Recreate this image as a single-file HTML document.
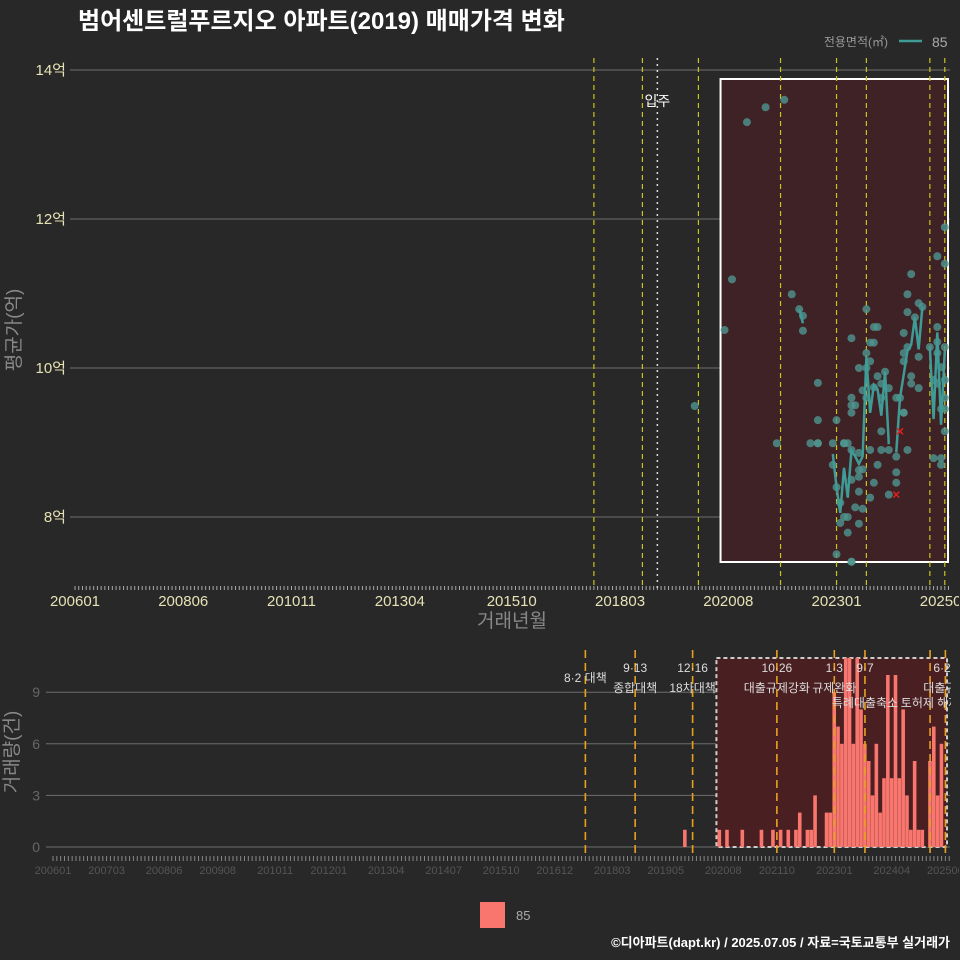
<!DOCTYPE html>
<html><head><meta charset="utf-8">
<style>
body{margin:0;background:#282829;}
svg{display:block;font-family:"Liberation Sans","Noto Sans CJK KR",sans-serif;}
</style></head>
<body>
<svg id="chart" width="960" height="960" viewBox="0 0 960 960" xmlns="http://www.w3.org/2000/svg">
<rect x="0" y="0" width="960" height="960" fill="#282829"/>
<text x="78" y="29" fill="#ffffff" font-size="24" font-weight="bold">범어센트럴푸르지오 아파트(2019) 매매가격 변화</text>
<text x="888" y="46" fill="#999" font-size="12" text-anchor="end">전용면적(㎡)</text>
<line x1="899" y1="41" x2="922" y2="41" stroke="#3f9b96" stroke-width="2.5"/>
<text x="932" y="47" fill="#aaa" font-size="14">85</text>
<g id="topG"></g>
<g id="botG"></g>
<text x="20" y="330" fill="#888" font-size="19" text-anchor="middle" transform="rotate(-90 20 330)">평균가(억)</text>
<text x="512" y="627" fill="#888" font-size="19" text-anchor="middle">거래년월</text>
<text x="18" y="752" fill="#888" font-size="19" text-anchor="middle" transform="rotate(-90 18 752)">거래량(건)</text>
<rect x="480" y="902" width="25" height="26" fill="#f8766d"/>
<text x="516" y="920" fill="#aaa" font-size="13">85</text>
<text x="950" y="947" fill="#fff" font-size="13" font-weight="bold" text-anchor="end">©디아파트(dapt.kr) / 2025.07.05 / 자료=국토교통부 실거래가</text>
</svg>
<script>
const NS="http://www.w3.org/2000/svg";
// ---- data ----
const topTickLabels=["200601","200806","201011","201304","201510","201803","202008","202301","202506"];
const priceTicks=[8,10,12,14];
const eventMonths=["201708","201809","201912","202110","202301","202309","202502","202506"];
const moveInMonth="201901";
const pointMonths=["201911","202007","202009","202101","202106","202111","202201","202203","202204","202204","202208","202208","202208","202206","202208","202109",
"202301","202212","202212","202301","202302","202303","202302","202304","202305","202301","202305",
"202303","202303","202304","202305","202307","202307","202305","202307","202308","202307","202306","202304","202307","202308","202310","202311","202403","202405",
"202312","202310","202401","202403","202405","202408","202405","202401","202305","202305","202305","202306","202308","202309","202311","202401","202401","202403","202405","202406","202407","202407","202409","202411","202409","202312","202402","202307","202309","202310","202309","202305","202311","202312","202310","202311","202309","202407","202407","202408","202407","202408","202408","202409","202410","202411","202412","202411","202502","202504","202504","202505","202506","202504","202505","202506","202503","202505","202505","202504","202504","202506","202506","202506","202503","202506","202506"];
const pointPrices=[9.49,10.51,11.19,13.30,13.50,13.60,10.99,10.79,10.70,10.50,9.80,9.30,8.99,8.99,8.99,8.99,
9.30,8.99,8.70,8.40,8.19,8.00,7.92,7.79,7.40,7.50,7.40,
8.99,8.99,8.99,8.90,8.86,8.63,8.50,8.54,8.64,8.34,8.13,8.00,7.91,8.11,8.26,8.46,8.30,8.46,
8.70,8.90,8.90,8.90,8.81,8.90,8.60,9.15,9.40,9.50,9.60,9.50,9.70,9.60,9.74,9.60,9.79,9.73,9.60,9.60,9.40,9.40,9.79,9.73,9.89,9.89,9.95,10.0,10.0,10.09,10.20,10.40,10.55,10.55,10.34,10.34,10.79,10.09,10.20,10.28,10.47,10.75,10.99,11.26,10.68,10.87,10.82,10.15,10.28,10.35,10.20,10.01,9.84,9.79,9.45,9.45,8.79,8.70,8.79,10.55,11.50,11.40,11.89,10.28,9.84,9.60,9.15];
const crossMonths=["202406","202405"];
const crossPrices=[9.15,8.30];
const botTickLabels=["200601","200703","200806","200908","201011","201201","201304","201407","201510","201612","201803","201905","202008","202110","202301","202404","202506"];
const volTicks=[0,3,6,9];
const barMonths=["201910","202007","202009","202101","202106","202109","202111","202201","202203","202204","202206","202207","202208","202211","202212","202301","202302","202303","202304","202305","202306","202307","202308","202309","202310","202311","202312","202401","202402","202403","202404","202405","202406","202407","202408","202409","202410","202411","202412","202502","202503","202504","202505"];
const barCounts=[1,1,1,1,1,1,1,1,1,2,1,1,3,2,2,9,7,6,11,11,6,11,8,6,5,3,6,2,4,10,4,10,4,8,3,1,5,1,1,5,7,3,6];
const annotMonths=["201708","201809","201912","202110","202301","202309","202502","202506"];
const annotTop=["8·2 대책","9·13","12·16","10·26","1·3","9·7","","6·27"];
const annotBot=["","종합대책","18차대책","대출규제강화","규제완화","특례대출축소","토허제 해제","대출규제"];

function idx(m){return (parseInt(m.slice(0,4))-2006)*12+parseInt(m.slice(4,6))-1;}
const tx=i=>75+3.733*i;
const ty=p=>70+(14-p)*74.5;
const bx=i=>53+3.83*i;
const by=v=>847-v*17.2;
function el(tag,attrs,parent,text){const e=document.createElementNS(NS,tag);for(const k in attrs)e.setAttribute(k,attrs[k]);if(text!==undefined)e.textContent=text;parent.appendChild(e);return e;}

const topG=document.getElementById('topG');
const defs=el('defs',{},topG);
const cp=el('clipPath',{id:'cpTop'},defs);el('rect',{x:70,y:56,width:880,height:532},cp);
const cp2=el('clipPath',{id:'cpBot'},defs);el('rect',{x:46,y:655,width:904,height:194},cp2);
priceTicks.forEach(p=>{
  const g=el('line',{x1:70,x2:950,y1:ty(p),y2:ty(p),stroke:'#6e6e6e','stroke-width':1},topG);
  
  
  const t=el('text',{x:66,y:ty(p)+5,fill:'#e6e2b4','font-size':15,'text-anchor':'end'},topG,p+'억');
  
  
});
for(let i=0;i<=234;i++){
  const l=el('line',{x1:tx(i),x2:tx(i),y1:586,y2:590,stroke:'#aaa','stroke-width':1},topG);
  
  
}
const cp3=el('clipPath',{id:'cpTopLbl'},defs);el('rect',{x:0,y:590,width:959,height:30},cp3);
const topLbls=el('g',{'clip-path':'url(#cpTopLbl)'},topG);
topTickLabels.forEach(m=>{
  const t=el('text',{x:tx(idx(m)),y:606,fill:'#e6e2b4','font-size':15,'text-anchor':'middle'},topLbls,m);
  
  
});
const tg=el('g',{'clip-path':'url(#cpTop)'},topG);
const pr=el('rect',{x:tx(174)-4,y:79,width:948-tx(174)+4,height:483,fill:'#3e2226',stroke:'#fff','stroke-width':2},tg);


eventMonths.forEach(m=>{
  const l=el('line',{x1:tx(idx(m)),x2:tx(idx(m)),y1:58,y2:590,stroke:'#c8c41e','stroke-width':1.2,'stroke-dasharray':'5,4'},tg);
  
  
});
const mv=el('line',{x1:tx(idx(moveInMonth)),x2:tx(idx(moveInMonth)),y1:58,y2:590,stroke:'#ddd','stroke-width':1.5,'stroke-dasharray':'2,4'},tg);


const mt=el('text',{x:tx(idx(moveInMonth)),y:106,fill:'#fff','font-size':14,'text-anchor':'middle'},tg,'입주');


pointMonths.forEach((m,k)=>{
  const c=el('circle',{cx:tx(idx(m)),cy:ty(pointPrices[k]),r:4,fill:'#4f9690','fill-opacity':0.8},tg);
  
  
});
const groups={};
pointMonths.forEach((m,k)=>{const i=idx(m);(groups[i]=groups[i]||[]).push(pointPrices[k]);});
const keys=Object.keys(groups).map(Number).sort((a,b)=>a-b);
let segs=[],cur=[];
keys.forEach((i,n)=>{
  if(n>0&&i-keys[n-1]>1){segs.push(cur);cur=[];}
  const a=groups[i];cur.push([tx(i),ty(a.reduce((s,v)=>s+v,0)/a.length)]);
});
segs.push(cur);
segs.forEach(s=>{
  if(s.length<2)return;
  const p=el('polyline',{points:s.map(q=>q.join(',')).join(' '),fill:'none',stroke:'#3f9b96','stroke-width':2.5},tg);
  
  
});
crossMonths.forEach((m,k)=>{
  const x=tx(idx(m)),y=ty(crossPrices[k]);
  const c=el('path',{d:`M${x-3},${y-3}L${x+3},${y+3}M${x+3},${y-3}L${x-3},${y+3}`,stroke:'#e0201e','stroke-width':1.5},tg);
  
  
});

const botG=document.getElementById('botG');
volTicks.forEach(v=>{
  const g=el('line',{x1:46,x2:950,y1:by(v),y2:by(v),stroke:'#6e6e6e','stroke-width':1},botG);
  
  
  const t=el('text',{x:40,y:by(v)+5,fill:'#666','font-size':14,'text-anchor':'end'},botG,String(v));
  
  
});
for(let i=0;i<=234;i++){
  const l=el('line',{x1:bx(i),x2:bx(i),y1:856,y2:861,stroke:'#888','stroke-width':1},botG);
  
  
}
const cp4=el('clipPath',{id:'cpBotLbl'},defs);el('rect',{x:0,y:860,width:959,height:20},cp4);
const botLbls=el('g',{'clip-path':'url(#cpBotLbl)'},botG);
botTickLabels.forEach(m=>{
  const t=el('text',{x:bx(idx(m)),y:874,fill:'#555','font-size':11,'text-anchor':'middle'},botLbls,m);
  
  
});
const bg=el('g',{'clip-path':'url(#cpBot)'},botG);
const br=el('rect',{x:bx(174)-3,y:658,width:947-bx(174)+3,height:189,fill:'#4a1f21',stroke:'#ccc','stroke-width':2,'stroke-dasharray':'4,3'},bg);


barMonths.forEach((m,k)=>{
  const x=bx(idx(m));
  const b=el('rect',{x:x-1.9,y:by(barCounts[k]),width:3.6,height:barCounts[k]*17.2,fill:'#f8766d'},bg);
  
  
});
const ev=el('g',{},botG);
annotMonths.forEach(m=>{
  const l=el('line',{x1:bx(idx(m)),x2:bx(idx(m)),y1:650,y2:856,stroke:'#e8a020','stroke-width':1.6,'stroke-dasharray':'8,5'},ev);
  
  
});
const cp5=el('clipPath',{id:'cpAnn'},defs);el('rect',{x:0,y:650,width:951,height:60},cp5);
const al=el('g',{'clip-path':'url(#cpAnn)'},botG);
annotMonths.forEach((m,k)=>{
  const x=bx(idx(m));
  if(annotTop[k]){
    const y=k===0?682:672;
    const t=el('text',{x:x,y:y,fill:'#ddd','font-size':12,'text-anchor':'middle'},al,annotTop[k]);
    
    
  }
  if(annotBot[k]){
    const y=(k===5||k===6)?707:692;
    const t=el('text',{x:x,y:y,fill:'#ddd','font-size':12,'text-anchor':'middle'},al,annotBot[k]);
    
    
  }
});
</script>
</body></html>
